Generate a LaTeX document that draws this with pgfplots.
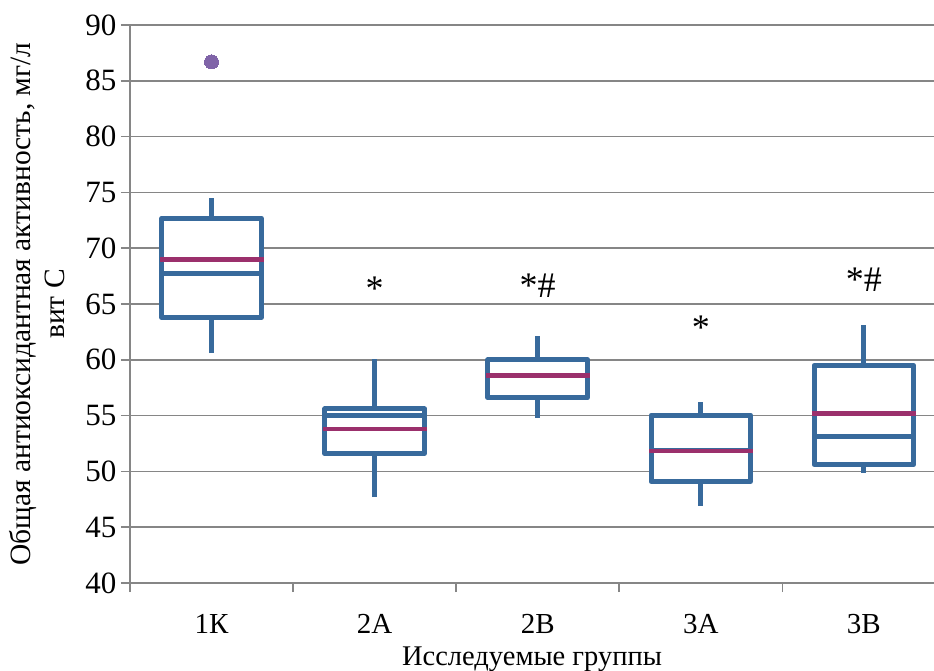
\documentclass[border=0pt]{standalone}
\usepackage{fontspec}
\setmainfont{Liberation Serif}
\usepackage{pgfplots}
\pgfplotsset{compat=1.18}
\definecolor{boxblue}{RGB}{56,106,156}
\definecolor{meanpurple}{RGB}{155,48,108}
\definecolor{outl}{RGB}{128,100,168}
\definecolor{gridgray}{RGB}{134,134,134}
\pgfplotsset{
  whisk/.style={draw=boxblue, line width=5pt, line cap=butt, mark=none, forget plot},
  bx/.style={draw=boxblue, fill=white, line width=5pt, line join=round, mark=none, forget plot},
  med/.style={draw=boxblue, line width=5pt, mark=none, forget plot},
  mn/.style={draw=meanpurple, line width=4.5pt, line cap=rect, mark=none, forget plot},
}
\begin{document}
\begin{tikzpicture}[font=\fontsize{28.5}{33}\selectfont]
\begin{axis}[
  scale only axis, width=804pt, height=558pt,
  xmin=-0.5, xmax=4.43, ymin=40, ymax=90,
  axis x line*=bottom, axis y line*=left,
  ytick={40,45,...,90},
  ymajorgrids, grid style={gridgray, line width=1.6pt},
  axis line style={gridgray, line width=1.6pt},
  tick style={gridgray, line width=1.6pt},
  tick align=outside, major tick length=9pt,
  /pgf/number format/assume math mode=true,
  yticklabel style={font=\fontsize{31}{36}\selectfont, xshift=-1pt},
  xtick={-0.5,0.5,1.5,2.5,3.5}, xticklabels={,,,,},
  extra x ticks={0,1,2,3,4},
  extra x tick labels={1К,2А,2В,3А,3В},
  extra x tick style={major tick length=0pt,
     xticklabel style={inner sep=0pt, yshift=-31pt, font=\fontsize{29}{34}\selectfont}},
  xlabel={Исследуемые группы},
  xlabel style={at={([yshift=-82pt]axis description cs:0.5,0)}, anchor=base, inner sep=0pt},
  ylabel={Общая антиоксидантная активность, мг/л\\вит С},
  ylabel style={at={([xshift=-93pt]axis description cs:0,0.5)}, anchor=center, align=center, rotate=0,
     font=\fontsize{29.5}{34}\selectfont},
  clip=false,
]
% ---- 1K: lw 60.6, lq 63.8, med 67.7, uq 72.7, uw 74.5, mean 69.0
\addplot[whisk] coordinates {(0,60.6) (0,74.5)};
\addplot[bx] coordinates {(-0.305,63.8) (0.305,63.8) (0.305,72.7) (-0.305,72.7)} -- cycle;
\addplot[med] coordinates {(-0.305,67.7) (0.305,67.7)};
\addplot[mn] coordinates {(-0.305,69.0) (0.305,69.0)};
% ---- 2A: lw 47.7, lq 51.6, med 55.05, uq 55.6, uw 60.1, mean 53.8
\addplot[whisk] coordinates {(1,47.7) (1,60.1)};
\addplot[bx] coordinates {(0.695,51.6) (1.305,51.6) (1.305,55.6) (0.695,55.6)} -- cycle;
\addplot[med] coordinates {(0.695,55.05) (1.305,55.05)};
\addplot[mn] coordinates {(0.695,53.8) (1.305,53.8)};
% ---- 2B: lw 54.8, lq 56.6, med 58.6, uq 60.0, uw 62.1, mean 58.6
\addplot[whisk] coordinates {(2,54.8) (2,62.1)};
\addplot[bx] coordinates {(1.695,56.6) (2.305,56.6) (2.305,60.0) (1.695,60.0)} -- cycle;
\addplot[med] coordinates {(1.695,58.6) (2.305,58.6)};
\addplot[mn] coordinates {(1.695,58.6) (2.305,58.6)};
% ---- 3A: lw 46.9, lq 49.1, med 51.85, uq 55.05, uw 56.2, mean 51.85
\addplot[whisk] coordinates {(3,46.9) (3,56.2)};
\addplot[bx] coordinates {(2.695,49.1) (3.305,49.1) (3.305,55.05) (2.695,55.05)} -- cycle;
\addplot[med] coordinates {(2.695,51.85) (3.305,51.85)};
\addplot[mn] coordinates {(2.695,51.85) (3.305,51.85)};
% ---- 3B: lw 49.9, lq 50.6, med 53.1, uq 59.5, uw 63.1, mean 55.2
\addplot[whisk] coordinates {(4,49.9) (4,63.1)};
\addplot[bx] coordinates {(3.695,50.6) (4.305,50.6) (4.305,59.5) (3.695,59.5)} -- cycle;
\addplot[med] coordinates {(3.695,53.1) (4.305,53.1)};
\addplot[mn] coordinates {(3.695,55.2) (4.305,55.2)};
% outlier
\addplot[only marks, mark=*, mark size=7pt, mark options={fill=outl, draw=outl, line width=0pt}] coordinates {(0,86.7)};
% annotations
\node[anchor=base, font=\fontsize{36}{40}\selectfont] at (axis cs:1,65.3) {*};
\node[anchor=base, font=\fontsize{36}{40}\selectfont] at (axis cs:2,65.6) {*\#};
\node[anchor=base, font=\fontsize{36}{40}\selectfont] at (axis cs:3,61.8) {*};
\node[anchor=base, font=\fontsize{36}{40}\selectfont] at (axis cs:4,66.1) {*\#};
\end{axis}
\pgfresetboundingbox
\path[use as bounding box] (-130pt,-87pt) rectangle (804pt,583pt);
\end{tikzpicture}
\end{document}
